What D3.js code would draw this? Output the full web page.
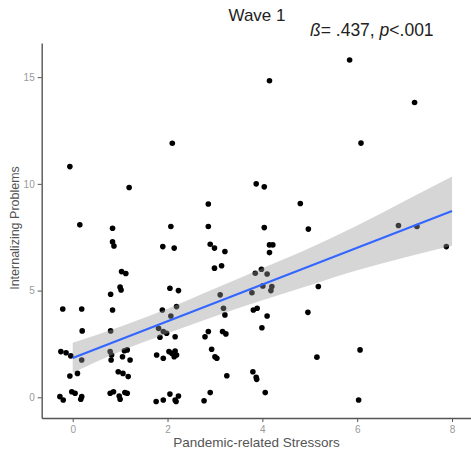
<!DOCTYPE html>
<meta charset="utf-8">
<style>
    body { margin: 0; background: #fff; }
    svg { font-family: "Liberation Sans", Arial, sans-serif; display: block; }
    .axis path, .axis line { stroke: #555; }
    .axis text { fill: #999; font-size: 10px; }
</style>
<svg width="471" height="453"></svg>
<script src="https://cdn.jsdelivr.net/npm/d3@7"></script>
<script>
    // scatter values (jittered points)
    var stressors = [-0.06, 0.15, -0.21, 0.19, 0.20, -0.25, -0.14, -0.04, 0.19, -0.06, 0.10, -0.27, -0.20, -0.02, 0.05, 0.19, 0.17,
        1.19, 0.84, 0.84, 0.87, 1.03, 1.12, 1.0, 1.02, 0.80, 0.84, 0.80, 0.79, 0.82, 0.81, 1.09, 1.15, 1.05, 1.21, 0.96, 1.06, 1.17, 0.79, 0.86, 1.0, 0.98, 1.1, 1.15,
        2.1, 2.07, 1.90, 2.14, 2.05, 2.23, 1.89, 2.19, 2.07, 1.81, 1.91, 1.98, 1.84, 2.16, 1.77, 1.91, 2.03, 2.09, 2.16, 2.14, 2.19, 1.76, 1.91, 2.05, 2.16, 2.23, 2.18,
        2.86, 2.86, 2.9, 2.99, 3.21, 2.99, 3.14, 3.11, 3.18, 3.21, 2.79, 2.86, 3.16, 3.23, 2.93, 3.04, 3.0, 3.25, 2.77, 2.9,
        4.15, 3.87, 4.04, 4.80, 4.04, 4.97, 4.15, 4.22, 4.15, 3.85, 3.98, 4.1, 4.01, 4.2, 4.18, 3.78, 5.18, 3.81, 3.89, 4.1, 3.99, 4.96, 5.15, 3.8, 3.87, 3.88, 4.06,
        5.84, 7.21, 6.08, 6.87, 7.26, 7.88, 6.06, 6.03];
    var problems = [10.81, 8.08, 4.14, 4.14, 3.11, 2.14, 2.09, 1.94, 1.75, 1.0, 1.12, 0.03, -0.13, 0.26, 0.19, 0.03, -0.09,
        9.83, 7.92, 7.28, 7.09, 5.89, 5.8, 5.16, 5.03, 4.83, 4.09, 3.11, 2.14, 1.98, 1.75, 2.18, 2.22, 1.9, 1.75, 1.2, 1.12, 0.97, 0.19, 0.26, -0.09, 0.06, 0.22, 0.19,
        11.9, 8.0, 7.06, 6.99, 5.11, 5.0, 4.09, 4.25, 3.81, 3.23, 3.08, 3.0, 2.81, 2.84, 1.98, 1.83, 2.14, 2.06, 2.17, 1.9, 1.98, -0.2, -0.13, 0.15, -0.13, 0.06, -0.2,
        9.06, 8.0, 7.17, 6.99, 6.83, 6.05, 6.16, 4.8, 4.17, 3.86, 2.84, 3.08, 3.08, 2.97, 2.25, 1.83, 1.9, 1.01, -0.16, 0.22,
        14.83, 10.0, 9.86, 9.08, 7.95, 7.88, 7.14, 7.14, 6.78, 5.81, 6.0, 5.78, 5.22, 5.19, 5.0, 4.9, 5.19, 4.09, 4.17, 3.81, 3.26, 3.98, 1.88, 1.2, 0.94, 0.84, 0.22,
        15.8, 13.81, 11.91, 8.05, 8.0, 7.06, 2.22, -0.13];

    // fitted line and its confidence band
    var fitX = [0, 8];
    var fitY = [1.84, 8.73];
    var bandX = [0, 1, 2, 3, 4, 5, 6, 7, 8];
    var bandLower = [1.15, 2.15, 3.0, 3.8, 4.55, 5.25, 5.95, 6.55, 7.1];
    var bandUpper = [2.55, 3.3, 4.15, 5.1, 6.05, 7.0, 8.05, 9.2, 10.35];

    var xTicks = [0, 2, 4, 6, 8];
    var yTicks = [0, 5, 10, 15];

    var svgElem = d3.select('svg');
    var panel = { left: 41.7, right: 471, top: 43, bottom: 418 };

    var x = d3.scaleLinear().domain([-0.654, 8.4]).range([panel.left, panel.right]);
    var y = d3.scaleLinear().domain([-0.97, 16.6]).range([panel.bottom, panel.top]);

    var points = stressors.map(function (d, i) {
        return { x: d, y: problems[i] };
    });
    var band = bandX.map(function (d, i) {
        return { x: d, lo: bandLower[i], hi: bandUpper[i] };
    });
    var fit = fitX.map(function (d, i) {
        return { x: d, y: fitY[i] };
    });

    // points first, the ribbon sits over them like ggplot
    svgElem.append('g')
        .selectAll('circle')
        .data(points)
        .enter()
        .append('circle')
        .attr('cx', function (d) { return x(d.x); })
        .attr('cy', function (d) { return y(d.y); })
        .attr('r', 2.8)
        .attr('fill', '#000');

    var area = d3.area()
        .x(function (d) { return x(d.x); })
        .y0(function (d) { return y(d.lo); })
        .y1(function (d) { return y(d.hi); })
        .curve(d3.curveMonotoneX);
    svgElem.append('path')
        .datum(band)
        .attr('d', area)
        .attr('fill', '#999')
        .attr('fill-opacity', 0.4);

    var line = d3.line()
        .x(function (d) { return x(d.x); })
        .y(function (d) { return y(d.y); });
    svgElem.append('path')
        .datum(fit)
        .attr('d', line)
        .attr('fill', 'none')
        .attr('stroke', '#3366FF')
        .attr('stroke-width', 2);

    // axes
    svgElem.append('g')
        .attr('class', 'axis')
        .attr('transform', `translate(0, ${panel.bottom})`)
        .call(d3.axisBottom(x).tickValues(xTicks).tickSize(4).tickSizeOuter(0).tickPadding(4))
        .select('.domain').attr('stroke-width', 1.4);
    svgElem.append('g')
        .attr('class', 'axis')
        .attr('transform', `translate(${panel.left}, 0)`)
        .call(d3.axisLeft(y).tickValues(yTicks).tickSize(4).tickSizeOuter(0).tickPadding(3))
        .select('.domain').attr('stroke-width', 1.4);

    // titles
    svgElem.append('text')
        .attr('x', 257)
        .attr('y', 21)
        .attr('text-anchor', 'middle')
        .attr('font-size', 17)
        .attr('fill', '#222')
        .text('Wave 1');

    var note = svgElem.append('text')
        .attr('x', 310)
        .attr('y', 36)
        .attr('font-size', 17.5)
        .attr('fill', '#222');
    note.append('tspan').attr('font-style', 'italic').text('ß');
    note.append('tspan').text('= .437, ');
    note.append('tspan').attr('font-style', 'italic').text('p');
    note.append('tspan').text('<.001');

    svgElem.append('text')
        .attr('x', 256.5)
        .attr('y', 447)
        .attr('text-anchor', 'middle')
        .attr('font-size', 13.5)
        .attr('fill', '#555')
        .text('Pandemic-related Stressors');

    svgElem.append('text')
        .attr('transform', 'translate(19, 228) rotate(-90)')
        .attr('text-anchor', 'middle')
        .attr('font-size', 12.5)
        .attr('fill', '#555')
        .text('Internalizing Problems');
</script>
